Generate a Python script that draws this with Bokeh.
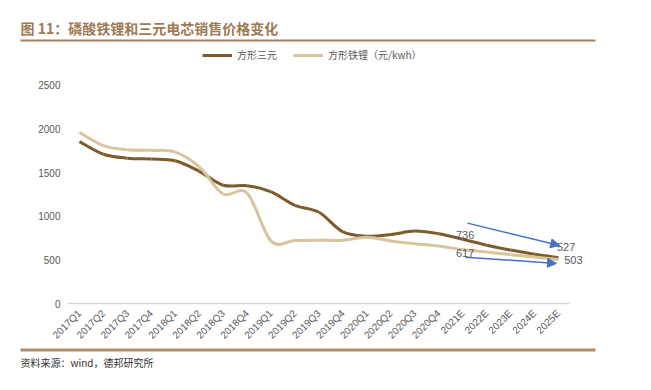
import math
from bokeh.plotting import figure
from bokeh.layouts import column
from bokeh.models import (Range1d, Label, Arrow, NormalHead, Legend, LegendItem,
                          FixedTicker, ColumnDataSource)
from bokeh.core.properties import value
from bokeh.embed import file_html
from bokeh.resources import INLINE

categories = ["2017Q1", "2017Q2", "2017Q3", "2017Q4", "2018Q1", "2018Q2", "2018Q3", "2018Q4",
              "2019Q1", "2019Q2", "2019Q3", "2019Q4", "2020Q1", "2020Q2", "2020Q3", "2020Q4",
              "2021E", "2022E", "2023E", "2024E", "2025E"]
ternary = [1855, 1710, 1665, 1655, 1635, 1515, 1355, 1350, 1280, 1125, 1045, 820,
           772, 790, 830, 800, 736, 668, 612, 565, 527]
lfp = [1960, 1810, 1762, 1755, 1735, 1565, 1255, 1265, 715, 722, 725, 725,
       760, 715, 685, 658, 617, 590, 560, 532, 503]
y_ticks = [0, 500, 1000, 1500, 2000, 2500]
series_names = ["方形三元", "方形铁锂（元/kwh）"]
title_text = "图 11：磷酸铁锂和三元电芯销售价格变化"
source_text = "资料来源：wind，德邦研究所"

DARK = "#7f5a2c"
TAN = "#d8c39c"
BROWN = "#a07852"
RULE = "#a57f5e"
GRAY = "#595959"
BLUE = "#4472c4"
CJK = "Noto Sans CJK SC"
LAT = "Liberation Sans"

W = 640
PX_PER_UNIT = 0.0876


def no_align(fig):
    if "frame_align" in fig.properties():
        fig.frame_align = False
    return fig


# ---------------- header: title + rule ----------------
top = figure(width=W, height=45, output_backend="svg", toolbar_location=None,
             x_range=Range1d(0, W), y_range=Range1d(45, 0),
             min_border=0, x_axis_type=None, y_axis_type=None)
no_align(top)
top.outline_line_color = None
top.grid.grid_line_color = None
top.text(x=[20], y=[27], text=[title_text], text_font=value(CJK), text_font_size="14px",
         text_font_style="bold", text_color=BROWN, text_baseline="middle", text_align="left")
top.segment(x0=[20], y0=[40], x1=[595], y1=[40], line_color=RULE, line_width=2)

# ---------------- main chart ----------------
n = len(categories)
unit_px = 23.95
frame_w = 516
frame_h = 259
p = figure(width=W, height=302, output_backend="svg", toolbar_location=None,
           x_range=Range1d(0, frame_w / unit_px), y_range=Range1d(0, frame_h / PX_PER_UNIT),
           min_border_left=67, min_border_right=W - 67 - frame_w,
           min_border_top=0, min_border_bottom=302 - frame_h)
no_align(p)
p.outline_line_color = None
p.xgrid.grid_line_color = None
p.ygrid.grid_line_color = None

p.yaxis.ticker = FixedTicker(ticks=y_ticks)
p.yaxis.axis_line_color = None
p.yaxis.major_tick_line_color = None
p.yaxis.minor_tick_line_color = None
p.yaxis.major_tick_out = 0
p.yaxis.major_tick_in = 0
p.yaxis.major_label_text_color = GRAY
p.yaxis.major_label_text_font = LAT
p.yaxis.major_label_text_font_size = "10px"
p.yaxis.major_label_standoff = 7

xt = [i + 0.5 for i in range(n)]
p.xaxis.ticker = FixedTicker(ticks=xt)
p.xaxis.major_label_overrides = {x: c for x, c in zip(xt, categories)}
p.xaxis.bounds = (0, n)
p.xaxis.axis_line_color = "#d9d9d9"
p.xaxis.axis_line_width = 1.5
p.xaxis.major_tick_line_color = None
p.xaxis.minor_tick_line_color = None
p.xaxis.major_tick_out = 0
p.xaxis.major_tick_in = 0
p.xaxis.major_label_orientation = math.pi / 4
p.xaxis.major_label_text_color = GRAY
p.xaxis.major_label_text_font = LAT
p.xaxis.major_label_text_font_size = "10px"
p.xaxis.major_label_standoff = 8


def smooth_segments(vals):
    m = len(vals)
    xs = [i + 0.5 for i in range(m)]
    d = dict(x0=[], y0=[], x1=[], y1=[], cx0=[], cy0=[], cx1=[], cy1=[])
    for i in range(m - 1):
        pm = max(i - 1, 0)
        pp = min(i + 2, m - 1)
        d["x0"].append(xs[i]); d["y0"].append(vals[i])
        d["x1"].append(xs[i + 1]); d["y1"].append(vals[i + 1])
        d["cx0"].append(xs[i] + (xs[i + 1] - xs[pm]) / 6.0)
        d["cy0"].append(vals[i] + (vals[i + 1] - vals[pm]) / 6.0)
        d["cx1"].append(xs[i + 1] - (xs[pp] - xs[i]) / 6.0)
        d["cy1"].append(vals[i + 1] - (vals[pp] - vals[i]) / 6.0)
    return ColumnDataSource(d)


bz = dict(x0="x0", y0="y0", x1="x1", y1="y1", cx0="cx0", cy0="cy0", cx1="cx1", cy1="cy1")
r_ter = p.bezier(**bz, source=smooth_segments(ternary), line_color=DARK, line_width=3)
r_lfp = p.bezier(**bz, source=smooth_segments(lfp), line_color=TAN, line_width=3)

# data labels
i21 = categories.index("2021E")
i25 = categories.index("2025E")
for txt, x, y in [(str(ternary[i21]), i21 + 0.6, 790),
                  (str(lfp[i21]), i21 + 0.6, 573),
                  (str(ternary[i25]), i25 + 0.82, 650),
                  (str(lfp[i25]), i25 + 1.12, 493)]:
    p.add_layout(Label(x=x, y=y, text=txt, text_align="center", text_baseline="middle",
                       text_font=LAT, text_font_size="11px", text_color=GRAY))

# arrows
for xs_, ys_, xe_, ye_ in [(i21 + 0.7, 921, i25 + 0.55, 665),
                           (i21 + 0.62, 531, i25 + 0.42, 459)]:
    p.add_layout(Arrow(end=NormalHead(size=9, fill_color=BLUE, line_color=BLUE),
                       x_start=xs_, y_start=ys_, x_end=xe_, y_end=ye_,
                       line_color=BLUE, line_width=1.5))

# legend (inside the frame, above the plotted area)
legend = Legend(items=[LegendItem(label=series_names[0], renderers=[r_ter]),
                       LegendItem(label=series_names[1], renderers=[r_lfp])],
                orientation="horizontal", location=(135, frame_h - 18),
                label_text_font=CJK, label_text_font_size="10px", label_text_color=GRAY,
                glyph_width=30, glyph_height=12, label_height=12, spacing=16,
                padding=0, margin=0, label_standoff=5,
                border_line_color=None, background_fill_alpha=0)
p.add_layout(legend, "center")

# ---------------- footer: rule + source ----------------
bot = figure(width=W, height=33, output_backend="svg", toolbar_location=None,
             x_range=Range1d(0, W), y_range=Range1d(33, 0),
             min_border=0, x_axis_type=None, y_axis_type=None)
no_align(bot)
bot.outline_line_color = None
bot.grid.grid_line_color = None
bot.segment(x0=[20], y0=[2.5], x1=[595], y1=[2.5], line_color="#b08d6e", line_width=3)
bot.text(x=[20], y=[15], text=[source_text], text_font=value(CJK), text_font_size="10px",
         text_color="#333333", text_baseline="middle", text_align="left")

layout = column(column(top), p, column(bot), spacing=0)
open("out.html", "w").write(file_html(layout, INLINE))
